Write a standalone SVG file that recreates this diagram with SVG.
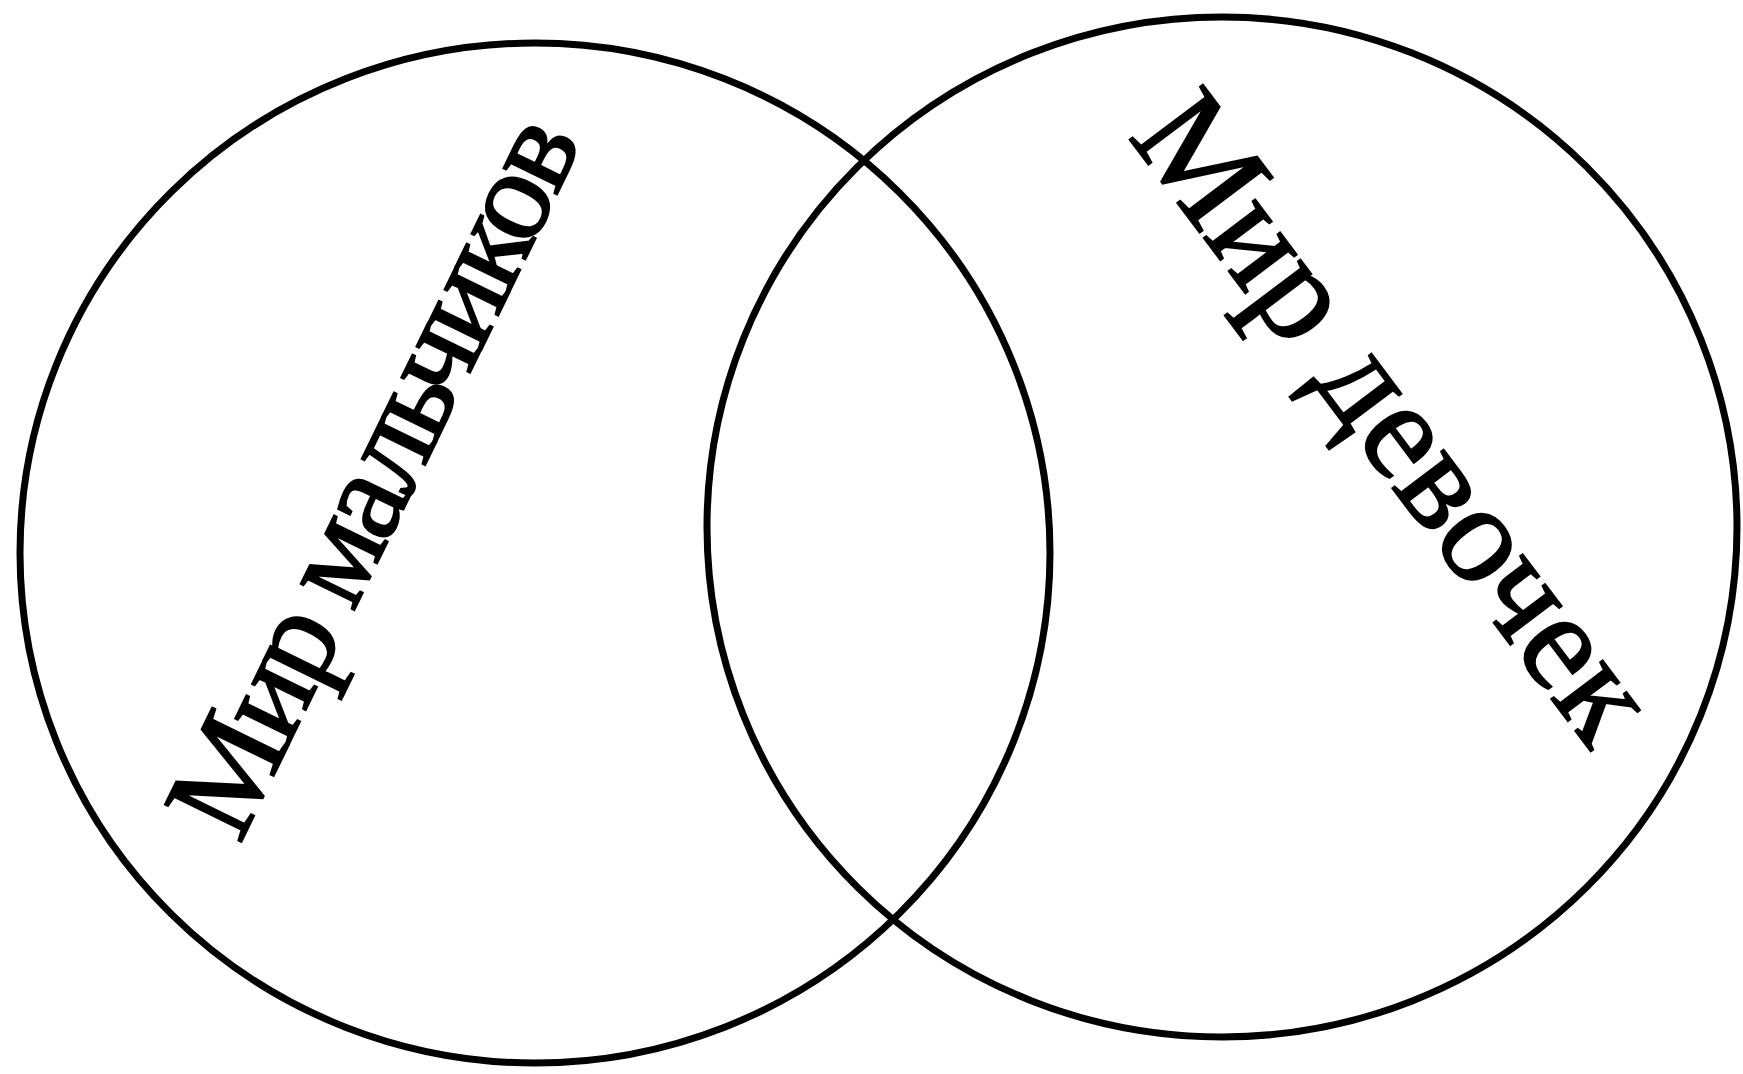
<svg xmlns="http://www.w3.org/2000/svg" width="1743" height="1074" viewBox="0 0 1743 1074">
<style>
.ring{fill:none;stroke:#000;stroke-width:7}
.lbl{font-family:"Liberation Serif","Times New Roman",serif;fill:#000;stroke:#000;stroke-width:2;text-anchor:middle}
</style>
<rect width="1743" height="1074" fill="#fff"/>
<g id="boys">
<ellipse class="ring" cx="535" cy="553" rx="515" ry="510"/>
<text class="lbl" font-size="130" letter-spacing="-6" transform="translate(410,496) rotate(-64)">Мир мальчиков</text>
</g>
<g id="girls">
<ellipse class="ring" cx="1222" cy="527" rx="515" ry="510"/>
<text class="lbl" font-size="140" letter-spacing="0" transform="translate(1359,444) rotate(53)">Мир девочек</text>
</g>
<g id="connectors"/>
</svg>
